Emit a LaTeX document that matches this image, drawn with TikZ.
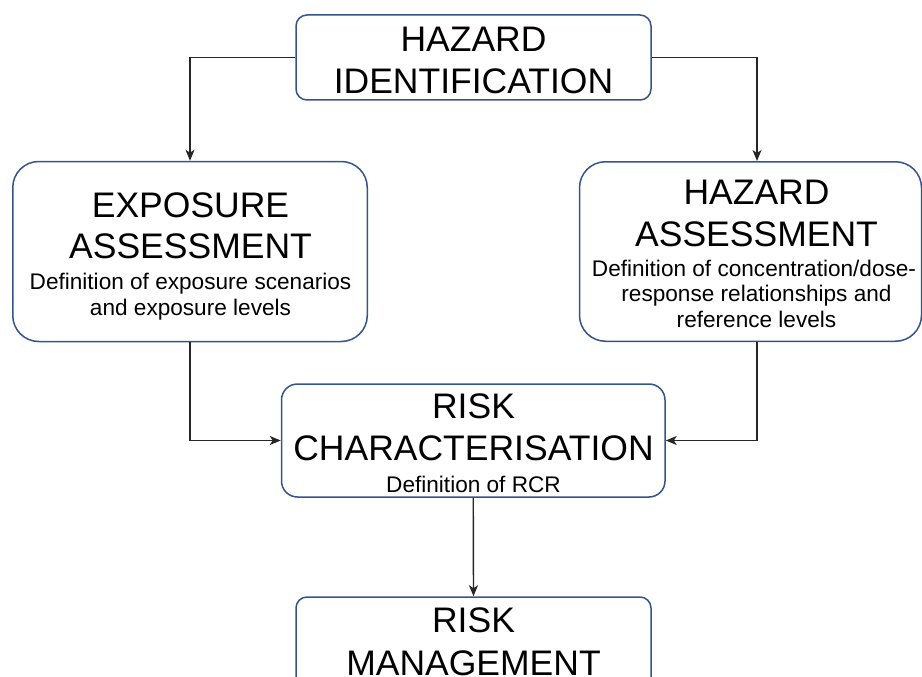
\documentclass[tikz,border=0pt]{standalone}
\usepackage{fontspec}
\setmainfont{Liberation Sans}
\usetikzlibrary{arrows.meta}
\definecolor{boxblue}{RGB}{52,84,140}
\tikzset{
  box/.style={draw=boxblue, line width=1.5pt, fill=white, inner sep=0pt},
  big/.style={font=\fontsize{35.5}{40}\selectfont, inner sep=0pt, anchor=base},
  small/.style={font=\fontsize{22.6}{26}\selectfont, inner sep=0pt, anchor=base},
  arr/.style={draw=black!85, line width=1.4pt, -{Stealth[length=11pt,width=9pt,inset=3pt]}},
}
\begin{document}
\begin{tikzpicture}[x=1pt,y=-1pt]
\useasboundingbox (0,0) rectangle (922,677);
% boxes (positions in px, y down)
\node[box, rounded corners=11pt, minimum width=355pt, minimum height=85pt] (hi) at (473.5,57.5) {};
\node[box, rounded corners=26pt, minimum width=354.5pt, minimum height=180pt] (ea) at (190,251.5) {};
\node[box, rounded corners=26pt, minimum width=342pt, minimum height=179.5pt] (ha) at (750.5,251.5) {};
\node[box, rounded corners=16pt, minimum width=383.5pt, minimum height=113pt] (rc) at (473.25,440.5) {};
\node[box, rounded corners=11pt, minimum width=355pt, minimum height=95pt] (rm) at (473.5,644.5) {};
% texts
\node[big] (hit1) at (473.5,51.5) {HAZARD};
\node[big] (hit2) at (473.5,93.5) {IDENTIFICATION};
\node[big] (eat1) at (190.5,217) {EXPOSURE};
\node[big] (eat2) at (190.5,258.5) {ASSESSMENT};
\node[small] (eat3) at (190.5,289) {Definition of exposure scenarios};
\node[small] (eat4) at (190.5,315.5) {and exposure levels};
\node[big] (hat1) at (756.5,204.5) {HAZARD};
\node[big] (hat2) at (756.5,246) {ASSESSMENT};
\node[small] (hat3) at (754,276) {Definition of concentration/dose-};
\node[small] (hat4) at (756.5,301.5) {response relationships and};
\node[small] (hat5) at (756.5,327.5) {reference levels};
\node[big] (rct1) at (473.5,418.5) {RISK};
\node[big] (rct2) at (473.5,460) {CHARACTERISATION};
\node[small] (rct3) at (473.5,492) {Definition of RCR};
\node[big] (rmt1) at (473.5,632) {RISK};
\node[big] (rmt2) at (473.5,675) {MANAGEMENT};
% connectors
\draw[arr] (hi.west) -| (ea.north);
\draw[arr] (hi.east) -| ([xshift=6.5pt]ha.north);
\draw[arr] (ea.south) |- (rc.west);
\draw[arr] ([xshift=6.5pt]ha.south) |- (rc.east);
\draw[arr] (rc.south) -- (rm.north);
\end{tikzpicture}
\end{document}
